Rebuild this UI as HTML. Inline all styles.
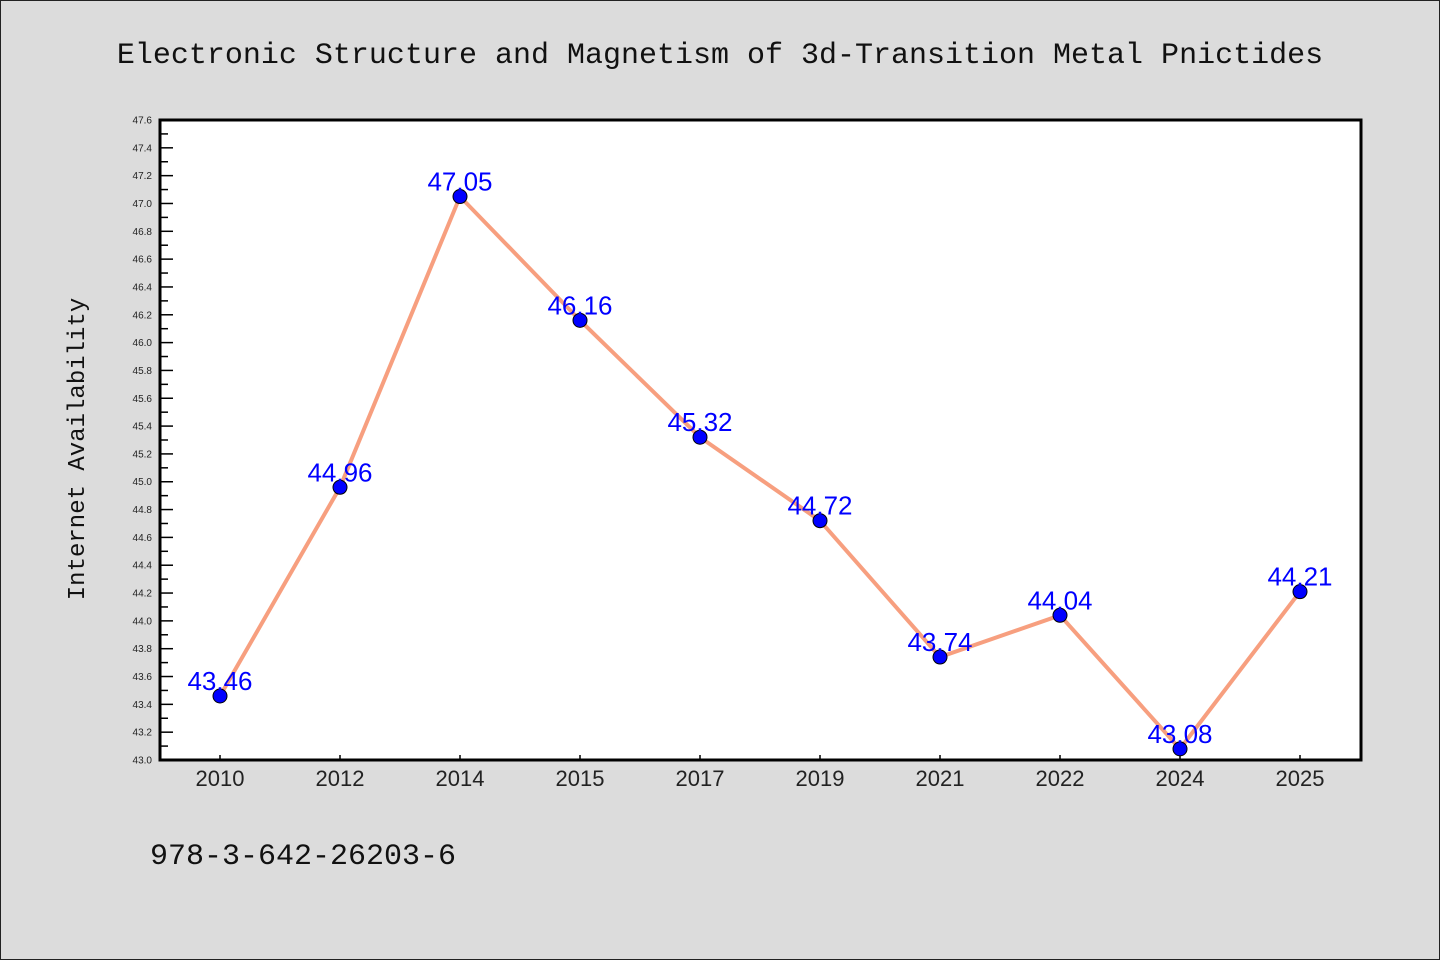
<!DOCTYPE html>
<html><head><meta charset="utf-8"><style>
body{margin:0;background:#dcdcdc}
svg{display:block}
</style></head><body>
<svg width="1440" height="960" xmlns="http://www.w3.org/2000/svg">
<rect x="0.5" y="0.5" width="1439" height="959" fill="#dcdcdc" stroke="#222"/>
<text x="720" y="63" text-anchor="middle" font-family="Liberation Mono, monospace" font-size="30" fill="#111">Electronic Structure and Magnetism of 3d-Transition Metal Pnictides</text>
<text transform="translate(84,449) rotate(-90)" text-anchor="middle" font-family="Liberation Mono, monospace" font-size="24" fill="#111">Internet Availability</text>
<text x="150" y="864" font-family="Liberation Mono, monospace" font-size="30" fill="#111">978-3-642-26203-6</text>
<rect x="160" y="120" width="1201" height="640" fill="#fff"/>
<g id="axes"></g>
<g id="marks"></g>
<rect x="160" y="120" width="1201" height="640" fill="none" stroke="#000" stroke-width="3"/>
</svg>
<script>
const categories=["2010","2012","2014","2015","2017","2019","2021","2022","2024","2025"];
const values=[43.46,44.96,47.05,46.16,45.32,44.72,43.74,44.04,43.08,44.21];
const yTicks=[43.0,43.2,43.4,43.6,43.8,44.0,44.2,44.4,44.6,44.8,45.0,45.2,45.4,45.6,45.8,46.0,46.2,46.4,46.6,46.8,47.0,47.2,47.4,47.6];
const ns="http://www.w3.org/2000/svg";
const yMin=43.0,yMax=47.6,plotTop=120,plotBot=760,plotLeft=160;
function yS(v){return plotBot-(v-yMin)/(yMax-yMin)*(plotBot-plotTop);}
function xS(i){return 220+120*i;}
function mk(t,a,p){const e=document.createElementNS(ns,t);for(const k in a)e.setAttribute(k,a[k]);p.appendChild(e);return e;}
const ax=document.getElementById('axes'),mg=document.getElementById('marks');
yTicks.forEach((v,i)=>{
  const t=mk('line',{x1:plotLeft,x2:plotLeft+13,y1:yS(v),y2:yS(v),stroke:'#000','stroke-width':1.5},ax);
  
  
  if(i<yTicks.length-1){const m=mk('line',{x1:plotLeft,x2:plotLeft+8,y1:yS(v+0.1),y2:yS(v+0.1),stroke:'#000','stroke-width':1.5},ax);
  
  }
  const l=mk('text',{x:152,y:yS(v)+3.5,'text-anchor':'end','font-family':'Liberation Sans, sans-serif','font-size':10,fill:'#222'},ax);
  l.textContent=v.toFixed(1);
  
  
});
categories.forEach((c,i)=>{
  const t=mk('line',{x1:xS(i),x2:xS(i),y1:plotBot,y2:plotBot-5,stroke:'#000','stroke-width':1.5},ax);
  
  
  const l=mk('text',{x:xS(i),y:786,'text-anchor':'middle','font-family':'Liberation Sans, sans-serif','font-size':22,fill:'#222'},ax);
  l.textContent=c;
  
  
});
const pl=mk('polyline',{points:values.map((v,i)=>xS(i)+','+yS(v)).join(' '),fill:'none',stroke:'#f79f7f','stroke-width':4},mg);


values.forEach((v,i)=>{
  const c=mk('circle',{cx:xS(i),cy:yS(v),r:7,fill:'#0000ff',stroke:'#000','stroke-width':1},mg);
  
  
  const l=mk('text',{x:xS(i),y:yS(v)-6,'text-anchor':'middle','font-family':'Liberation Sans, sans-serif','font-size':26,fill:'#0000ff'},mg);
  l.textContent=v.toFixed(2);
  
  
});
</script>
</body></html>
